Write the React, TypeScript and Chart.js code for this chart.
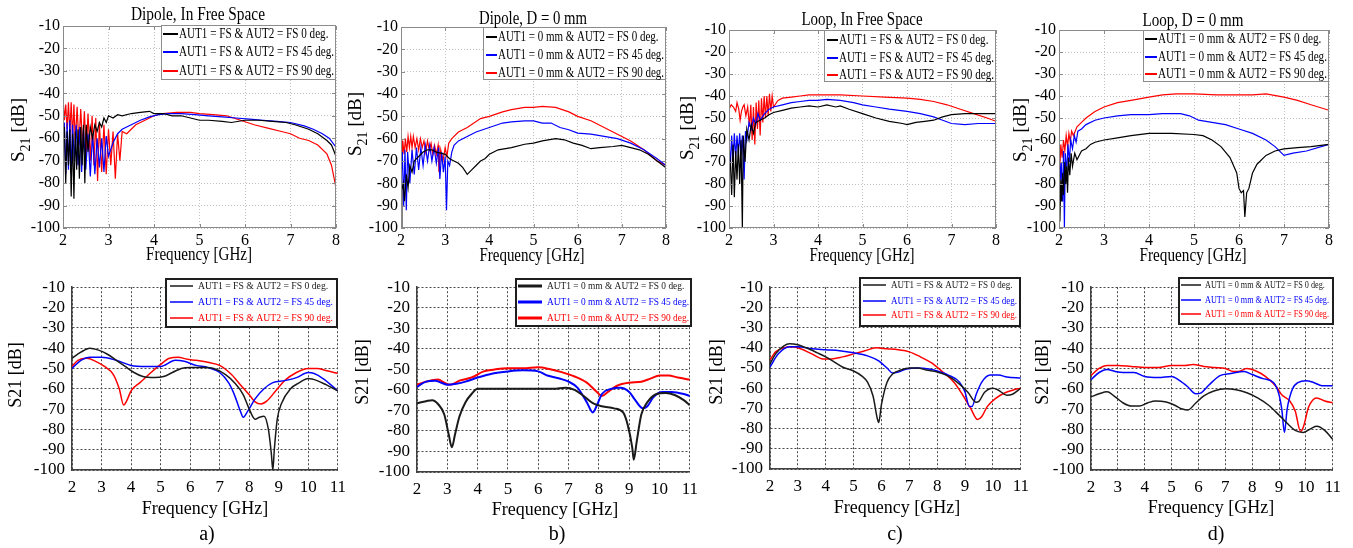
import React, { useEffect, useRef } from "react";
import { Chart, registerables } from "chart.js";
Chart.register(...registerables);

type Pt = [number, number];

const FONT = '"Liberation Serif", "Times New Roman", serif';
const COLORS = ["#000000", "#0000ff", "#ff0000"];
const COLORS_SIM = ["#1a1a1a", "#0000ff", "#ff0000"];

const LEGEND_FS = ["AUT1 = FS & AUT2 = FS 0 deg.", "AUT1 = FS & AUT2 = FS 45 deg.", "AUT1 = FS & AUT2 = FS 90 deg."];
const LEGEND_0MM = ["AUT1 = 0 mm & AUT2 = FS 0 deg.", "AUT1 = 0 mm & AUT2 = FS 45 deg.", "AUT1 = 0 mm & AUT2 = FS 90 deg."];
const TITLES = ["Dipole, In Free Space", "Dipole, D = 0 mm", "Loop, In Free Space", "Loop, D = 0 mm"];
const SUBLABELS = ["a)", "b)", "c)", "d)"];
const X_TITLE = "Frequency [GHz]";
const Y_TITLE = "S21 [dB]";

// ---------- Measured (top row) ----------
const dipFsBlack: Pt[] = [
  [2.0, -62], [2.03, -55], [2.06, -80], [2.09, -57], [2.12, -72], [2.15, -56], [2.18, -86], [2.21, -58], [2.24, -87],
  [2.27, -57], [2.3, -74], [2.33, -56], [2.36, -78], [2.39, -55], [2.42, -72], [2.45, -54], [2.48, -80], [2.51, -54],
  [2.55, -66], [2.6, -55], [2.65, -60], [2.7, -54], [2.75, -57], [2.8, -53], [2.85, -55], [2.9, -51], [2.95, -53],
  [3.0, -50], [3.1, -51], [3.2, -49.5], [3.3, -50], [3.5, -49], [3.7, -48.5], [3.9, -48], [4.0, -49], [4.2, -49],
  [4.4, -50], [4.6, -50], [4.8, -51], [5.0, -52], [5.2, -52], [5.5, -52.5], [5.7, -53], [6.0, -52], [6.3, -52],
  [6.6, -52.5], [6.9, -53], [7.1, -54], [7.4, -56], [7.6, -58], [7.8, -61], [7.9, -63], [8.0, -68],
];
const dipFsBlue: Pt[] = [
  [2.0, -65], [2.03, -53], [2.06, -76], [2.09, -53], [2.12, -74], [2.15, -52], [2.18, -76], [2.21, -54], [2.25, -70],
  [2.29, -54], [2.33, -72], [2.37, -55], [2.41, -75], [2.45, -56], [2.5, -74], [2.55, -58], [2.6, -77], [2.65, -58],
  [2.7, -76], [2.75, -60], [2.8, -73], [2.85, -60], [2.9, -75], [2.95, -59], [3.0, -68], [3.1, -62], [3.2, -58],
  [3.3, -56], [3.5, -54], [3.7, -52], [3.9, -50.5], [4.1, -49.5], [4.3, -49], [4.6, -49], [4.9, -49.5], [5.2, -50],
  [5.5, -50.5], [5.8, -51], [6.1, -51.5], [6.4, -52], [6.7, -52.5], [7.0, -53], [7.3, -54.5], [7.5, -56], [7.7, -58],
  [7.85, -60], [8.0, -64],
];
const dipFsRed: Pt[] = [
  [2.0, -42], [2.03, -52], [2.06, -45], [2.09, -56], [2.12, -44], [2.15, -58], [2.18, -44], [2.21, -60], [2.24, -45],
  [2.27, -62], [2.31, -46], [2.35, -63], [2.39, -47], [2.43, -64], [2.47, -48], [2.51, -67], [2.55, -49], [2.6, -70],
  [2.64, -50], [2.68, -72], [2.72, -51], [2.76, -79], [2.8, -53], [2.85, -75], [2.9, -54], [2.95, -76], [3.0, -56],
  [3.05, -72], [3.1, -57], [3.15, -78], [3.2, -58], [3.25, -70], [3.3, -57], [3.4, -58], [3.5, -56], [3.6, -54],
  [3.7, -53], [3.8, -52], [4.0, -50], [4.2, -49], [4.5, -48.5], [4.8, -48.5], [5.0, -49], [5.3, -49.5], [5.6, -50],
  [5.9, -52], [6.2, -54], [6.5, -55.5], [6.8, -57], [7.0, -58], [7.2, -60], [7.4, -61], [7.6, -63], [7.8, -67],
  [7.9, -72], [8.0, -82],
];

const dip0Black: Pt[] = [
  [2.0, -100], [2.02, -83], [2.05, -80], [2.08, -88], [2.12, -76], [2.16, -82], [2.2, -72], [2.25, -75], [2.3, -70],
  [2.4, -68], [2.5, -66], [2.6, -65], [2.7, -65], [2.8, -66], [2.9, -66.5], [3.0, -67], [3.1, -69], [3.2, -70],
  [3.3, -71], [3.4, -73], [3.5, -76], [3.6, -74], [3.7, -72], [3.8, -70], [3.9, -69], [4.0, -67], [4.2, -65],
  [4.5, -64], [4.8, -62.5], [5.0, -62], [5.2, -61], [5.5, -60], [5.7, -60.5], [5.9, -62], [6.1, -63], [6.3, -64.5],
  [6.5, -64], [6.8, -63.5], [7.0, -63], [7.2, -64], [7.4, -65], [7.6, -67], [7.8, -70], [8.0, -73],
];
const dip0Blue: Pt[] = [
  [2.0, -78], [2.03, -66], [2.06, -90], [2.09, -65], [2.12, -92], [2.15, -66], [2.2, -80], [2.25, -65], [2.3, -76],
  [2.35, -64], [2.4, -74], [2.45, -64], [2.5, -72], [2.55, -63], [2.6, -70], [2.65, -63], [2.7, -70], [2.75, -64],
  [2.8, -71], [2.85, -64], [2.88, -78], [2.92, -66], [2.96, -75], [3.0, -68], [3.03, -92], [3.06, -70], [3.1, -72],
  [3.15, -66], [3.2, -63], [3.3, -61], [3.5, -59], [3.7, -57], [4.0, -55], [4.3, -53], [4.5, -52.5], [4.8, -52],
  [5.0, -52], [5.2, -53], [5.4, -53], [5.6, -55], [5.8, -56], [6.0, -57.5], [6.3, -58], [6.6, -59], [6.9, -60],
  [7.2, -62], [7.5, -65], [7.8, -69], [8.0, -72],
];
const dip0Red: Pt[] = [
  [2.0, -60], [2.02, -73], [2.04, -61], [2.07, -67], [2.1, -60], [2.13, -66], [2.16, -59], [2.19, -64], [2.22, -59],
  [2.25, -64], [2.28, -59], [2.32, -64], [2.36, -60], [2.4, -65], [2.44, -60], [2.48, -64], [2.52, -61], [2.56, -66],
  [2.6, -61], [2.64, -65], [2.68, -62], [2.72, -67], [2.76, -63], [2.8, -67], [2.84, -63], [2.86, -75], [2.9, -65],
  [2.95, -70], [3.0, -64], [3.04, -68], [3.08, -62], [3.15, -60], [3.3, -57], [3.5, -55], [3.8, -51], [4.0, -50],
  [4.3, -48], [4.5, -47], [4.8, -46], [5.0, -46], [5.2, -45.5], [5.5, -46], [5.8, -48], [6.0, -50], [6.3, -52],
  [6.6, -55], [6.9, -58], [7.2, -61], [7.5, -65], [7.8, -70], [8.0, -72],
];

const loopFsBlack: Pt[] = [
  [2.0, -65], [2.03, -70], [2.06, -85], [2.09, -62], [2.12, -86], [2.15, -65], [2.18, -78], [2.21, -62], [2.24, -80],
  [2.27, -60], [2.3, -100], [2.32, -58], [2.36, -70], [2.4, -55], [2.45, -60], [2.5, -53], [2.55, -57], [2.6, -52],
  [2.7, -51], [2.8, -50], [2.9, -48.5], [3.0, -47.5], [3.2, -46.5], [3.4, -45.5], [3.6, -45], [3.8, -44.5], [4.0, -45],
  [4.2, -44], [4.4, -45], [4.5, -44.5], [4.7, -46], [5.0, -48], [5.3, -50], [5.6, -51.5], [5.9, -52.5], [6.0, -53],
  [6.2, -52], [6.4, -51.5], [6.6, -51], [6.8, -49.5], [7.0, -48.5], [7.3, -48], [7.6, -48], [8.0, -48],
];
const loopFsBlue: Pt[] = [
  [2.0, -60], [2.03, -72], [2.06, -58], [2.09, -70], [2.12, -57], [2.15, -68], [2.18, -58], [2.21, -66], [2.24, -57],
  [2.27, -67], [2.3, -58], [2.34, -78], [2.37, -56], [2.4, -60], [2.45, -52], [2.5, -55], [2.55, -50], [2.6, -53],
  [2.65, -48], [2.7, -51], [2.8, -48], [2.9, -46], [3.0, -45], [3.2, -44], [3.4, -43], [3.6, -42.5], [3.8, -42],
  [4.0, -42], [4.2, -41.5], [4.5, -42], [4.8, -43], [5.0, -44], [5.3, -45], [5.6, -46], [6.0, -47], [6.3, -48],
  [6.6, -49.5], [6.8, -51], [7.0, -52.5], [7.3, -53], [7.6, -52.5], [8.0, -52.5],
];
const loopFsRed: Pt[] = [
  [2.0, -46], [2.05, -44], [2.1, -45], [2.15, -47], [2.18, -43], [2.22, -46], [2.25, -51], [2.28, -47], [2.31, -45],
  [2.34, -44], [2.38, -49], [2.42, -45], [2.46, -54], [2.49, -44], [2.52, -60], [2.55, -45], [2.58, -62], [2.61, -43],
  [2.64, -55], [2.67, -42], [2.7, -58], [2.73, -41], [2.76, -52], [2.79, -40], [2.82, -50], [2.85, -40], [2.88, -49],
  [2.91, -39], [2.94, -47], [2.97, -40], [3.0, -45], [3.1, -42], [3.2, -41], [3.4, -40.5], [3.6, -40], [3.8, -39.5],
  [4.0, -39.5], [4.5, -39.5], [5.0, -40], [5.5, -40.5], [6.0, -41], [6.3, -41.5], [6.6, -42.5], [6.9, -44], [7.2, -46],
  [7.5, -48], [7.8, -50], [8.0, -51.5],
];

const loop0Black: Pt[] = [
  [2.0, -80], [2.02, -97], [2.04, -78], [2.06, -88], [2.08, -75], [2.1, -85], [2.13, -70], [2.15, -80], [2.17, -72],
  [2.19, -84], [2.21, -68], [2.24, -76], [2.27, -66], [2.3, -72], [2.35, -66], [2.4, -69], [2.5, -65], [2.6, -64],
  [2.7, -62], [2.8, -61], [3.0, -60], [3.3, -59], [3.6, -58], [4.0, -57], [4.5, -57], [5.0, -57.5], [5.2, -58],
  [5.4, -60], [5.6, -63], [5.8, -68], [5.95, -75], [6.0, -82], [6.05, -84], [6.1, -83], [6.13, -95], [6.17, -84],
  [6.22, -82], [6.3, -75], [6.4, -71], [6.6, -67], [6.8, -65], [7.0, -64], [7.3, -63.5], [7.6, -63], [8.0, -62],
];
const loop0Blue: Pt[] = [
  [2.0, -65], [2.03, -78], [2.05, -70], [2.08, -88], [2.1, -65], [2.12, -100], [2.14, -66], [2.17, -75], [2.2, -62],
  [2.23, -70], [2.26, -60], [2.3, -64], [2.34, -58], [2.38, -61], [2.42, -56], [2.5, -55], [2.6, -53], [2.8, -51],
  [3.0, -50], [3.3, -49], [3.6, -48.5], [4.0, -48.5], [4.3, -48], [4.7, -48], [4.9, -49], [5.1, -51], [5.4, -52],
  [5.7, -53], [6.0, -55], [6.3, -57], [6.6, -60], [6.8, -63], [7.0, -67], [7.2, -66], [7.5, -65], [8.0, -62],
];
const loop0Red: Pt[] = [
  [2.0, -64], [2.02, -72], [2.04, -62], [2.07, -68], [2.1, -60], [2.13, -65], [2.16, -58], [2.19, -63], [2.22, -57],
  [2.25, -61], [2.28, -56], [2.32, -58], [2.4, -54], [2.5, -52], [2.6, -50], [2.8, -47], [3.0, -45], [3.3, -43],
  [3.6, -42], [4.0, -40.5], [4.3, -39.5], [4.6, -39], [5.0, -39], [5.5, -39.5], [6.0, -39.5], [6.3, -39.5], [6.6, -39],
  [7.0, -40.5], [7.3, -42], [7.6, -44], [8.0, -46.5],
];

// ---------- Simulated (bottom row) ----------
const simDipFsBlack: Pt[] = [
  [2.0, -45], [2.3, -42], [2.6, -40], [2.9, -41], [3.2, -43], [3.5, -46], [3.8, -49], [4.1, -52], [4.4, -54],
  [4.8, -54.5], [5.1, -54], [5.4, -52], [5.7, -50], [6.0, -49.5], [6.5, -49.5], [6.8, -50], [7.2, -53], [7.5, -57],
  [7.8, -63], [8.0, -70], [8.2, -75], [8.35, -74], [8.5, -73.5], [8.65, -80], [8.75, -92], [8.8, -100], [8.85, -90],
  [8.95, -75], [9.1, -67], [9.4, -60], [9.7, -57], [10.0, -55], [10.3, -56], [10.6, -58], [11.0, -61],
];
const simDipFsBlue: Pt[] = [
  [2.0, -50], [2.3, -46], [2.6, -44.5], [3.0, -44.5], [3.5, -46], [4.0, -48.5], [4.5, -49], [5.0, -49], [5.5, -46],
  [5.8, -46.5], [6.2, -48.5], [6.6, -49.5], [7.0, -52], [7.3, -57], [7.5, -63], [7.7, -71], [7.8, -74], [7.95, -71],
  [8.2, -65], [8.5, -60], [8.8, -57], [9.2, -56], [9.6, -54.5], [10.0, -52], [10.2, -52.5], [10.5, -55], [11.0, -61],
];
const simDipFsRed: Pt[] = [
  [2.0, -49], [2.2, -46], [2.5, -45], [2.8, -46.5], [3.1, -49], [3.4, -53], [3.6, -60], [3.75, -68], [3.85, -66],
  [4.0, -61], [4.3, -57], [4.6, -53], [5.0, -48], [5.3, -45], [5.6, -44.5], [5.9, -45.5], [6.2, -46], [6.6, -47],
  [7.0, -48.5], [7.4, -53], [7.7, -58], [8.0, -63], [8.2, -66.5], [8.4, -67.5], [8.6, -66], [8.9, -61], [9.2, -56],
  [9.6, -52], [10.0, -50], [10.3, -50], [10.6, -51], [11.0, -52.5],
];

const simDip0Black: Pt[] = [
  [2.0, -66.5], [2.3, -65.5], [2.5, -65], [2.7, -67], [2.9, -72], [3.05, -82], [3.15, -88], [3.25, -82], [3.4, -73],
  [3.6, -66], [3.8, -62], [4.0, -59.5], [4.5, -59.5], [5.0, -59.5], [5.5, -59.5], [6.0, -59.5], [6.5, -59.5], [6.9, -59],
  [7.2, -60], [7.5, -63], [7.8, -66.5], [8.1, -68], [8.5, -69], [8.8, -71], [8.95, -77], [9.1, -88], [9.15, -94],
  [9.25, -85], [9.4, -72], [9.6, -66], [9.9, -62], [10.2, -61.5], [10.5, -62.5], [10.8, -65], [11.0, -67.5],
];
const simDip0Blue: Pt[] = [
  [2.0, -58.5], [2.3, -56], [2.6, -55.5], [2.8, -56.5], [3.0, -57.5], [3.3, -57], [3.6, -56], [4.0, -54], [4.5, -52],
  [5.0, -51], [5.5, -50.5], [6.0, -51], [6.3, -53], [6.7, -54.5], [7.0, -56], [7.3, -59], [7.6, -66], [7.8, -71],
  [7.95, -67], [8.1, -62], [8.4, -59.5], [8.7, -59], [9.0, -61], [9.2, -65], [9.45, -69], [9.6, -68], [9.8, -63.5],
  [10.1, -61], [10.4, -61], [10.8, -62], [11.0, -63],
];
const simDip0Red: Pt[] = [
  [2.0, -57.5], [2.3, -56], [2.7, -55], [2.9, -56.5], [3.1, -57.5], [3.4, -55.5], [3.8, -54], [4.2, -51], [4.6, -50],
  [5.0, -49.5], [5.5, -49.5], [6.0, -49], [6.4, -50], [6.8, -51.5], [7.2, -53.5], [7.6, -56.5], [7.9, -60.5], [8.1, -63],
  [8.3, -61], [8.6, -58], [9.0, -56.5], [9.4, -56], [9.7, -54.5], [10.0, -53], [10.3, -53], [10.6, -54], [11.0, -55],
];

const simLoopFsBlack: Pt[] = [
  [2.0, -48], [2.2, -43], [2.5, -39], [2.7, -38], [3.0, -38.5], [3.3, -40], [3.7, -42.5], [4.0, -44.5], [4.3, -47],
  [4.6, -49.5], [5.0, -51.5], [5.3, -54], [5.5, -57], [5.7, -64], [5.85, -75], [5.9, -77], [6.0, -68], [6.2, -57],
  [6.4, -53], [6.7, -51], [7.0, -50], [7.3, -50], [7.6, -51], [8.0, -52], [8.4, -54], [8.8, -58], [9.1, -62],
  [9.4, -67], [9.5, -66.5], [9.7, -62], [10.0, -60], [10.2, -61], [10.5, -63.5], [10.7, -63], [11.0, -60],
];
const simLoopFsBlue: Pt[] = [
  [2.0, -49.5], [2.3, -43], [2.7, -39.5], [3.0, -39.5], [3.5, -40.5], [4.0, -41], [4.5, -41.5], [5.0, -42.5], [5.5, -44],
  [5.9, -46.5], [6.2, -50], [6.4, -52.5], [6.6, -52], [6.9, -50.5], [7.3, -50], [7.7, -50.5], [8.0, -51.5], [8.4, -53.5],
  [8.8, -57], [9.0, -62], [9.15, -69], [9.25, -69], [9.4, -63], [9.6, -57], [9.9, -53.5], [10.2, -53.5], [10.5, -54.5],
  [11.0, -55],
];
const simLoopFsRed: Pt[] = [
  [2.0, -46], [2.2, -42], [2.5, -40], [2.8, -39.5], [3.1, -40.5], [3.5, -43], [3.9, -45.5], [4.2, -45.5], [4.6, -44.5],
  [5.0, -43], [5.4, -41.5], [5.8, -40], [6.2, -40.5], [6.6, -41], [7.0, -42], [7.4, -44.5], [7.8, -47.5], [8.2, -52],
  [8.6, -57], [8.9, -63], [9.2, -70], [9.45, -75.5], [9.6, -74], [9.8, -69], [10.1, -65], [10.4, -62.5], [10.7, -61],
  [11.0, -60],
];

const simLoop0Black: Pt[] = [
  [2.0, -64], [2.3, -62.5], [2.6, -61.5], [2.9, -64], [3.2, -67], [3.5, -68.5], [3.8, -68.5], [4.1, -67], [4.4, -66],
  [4.8, -66.5], [5.1, -68], [5.4, -70], [5.6, -70.5], [5.9, -67], [6.2, -63.5], [6.6, -61], [7.0, -60], [7.4, -60.5],
  [7.8, -62], [8.2, -64.5], [8.6, -68], [9.0, -73], [9.3, -77], [9.6, -80.5], [9.9, -81.5], [10.2, -79.5], [10.4, -78.5],
  [10.7, -80.5], [11.0, -85],
];
const simLoop0Blue: Pt[] = [
  [2.0, -55.5], [2.3, -52], [2.6, -50.5], [2.9, -51.5], [3.2, -52], [3.6, -52], [4.0, -54], [4.5, -54.5], [5.0, -54],
  [5.3, -56], [5.6, -59], [5.9, -62.5], [6.1, -62], [6.4, -58], [6.8, -53.5], [7.2, -52.5], [7.7, -51.5], [8.0, -53],
  [8.4, -55], [8.8, -57], [9.0, -63], [9.1, -70], [9.2, -81.5], [9.3, -70], [9.5, -60], [9.7, -57], [10.0, -56],
  [10.3, -57], [10.6, -58.5], [11.0, -58.5],
];
const simLoop0Red: Pt[] = [
  [2.0, -53.5], [2.3, -50], [2.6, -48.5], [3.0, -48.5], [3.5, -49], [4.0, -49.5], [4.5, -49.5], [5.0, -48.5], [5.5, -48.5],
  [5.8, -48], [6.2, -49], [6.6, -49.5], [7.0, -50], [7.3, -51.5], [7.5, -51.5], [7.8, -50], [8.1, -51], [8.5, -54],
  [8.9, -59], [9.1, -63], [9.4, -66], [9.6, -71], [9.8, -81], [9.9, -79], [10.1, -69], [10.4, -64.5], [10.7, -66],
  [11.0, -67],
];

// ---------- Layout ----------
interface Rect { l: number; t: number; r: number; b: number }
interface Panel {
  key: string;
  top: boolean;
  plot: Rect;
  xMax: number;
  series: Pt[][];
  legend: string[];
  legBox: Rect;
  legLine: [number, number];
  legTextX: number;
  legRows: number[];
  legTextW: number;
  title?: { text: string; x: number; y: number; w: number };
  xTitle: { x: number; y: number; w?: number };
  yTitle: { x: number; y: number };
  sub?: { text: string; x: number; y: number };
  lineW: number;
  legLineW: number;
}

const PANELS: Panel[] = [
  {
    key: "ta", top: true, plot: { l: 63, t: 26, r: 336, b: 228 }, xMax: 8,
    series: [dipFsBlack, dipFsBlue, dipFsRed], legend: LEGEND_FS,
    legBox: { l: 161, t: 25, r: 336, b: 80 }, legLine: [163, 178], legTextX: 179, legRows: [34, 52, 71], legTextW: 155,
    title: { text: TITLES[0], x: 198, y: 15, w: 134 }, xTitle: { x: 199, y: 255, w: 106 }, yTitle: { x: 18, y: 130 },
    lineW: 1.2, legLineW: 2,
  },
  {
    key: "tb", top: true, plot: { l: 401, t: 27, r: 666, b: 228 }, xMax: 8,
    series: [dip0Black, dip0Blue, dip0Red], legend: LEGEND_0MM,
    legBox: { l: 483, t: 27, r: 666, b: 80 }, legLine: [486, 497], legTextX: 498, legRows: [37, 55, 73], legTextW: 166,
    title: { text: TITLES[1], x: 533, y: 19, w: 108 }, xTitle: { x: 532, y: 256, w: 105 }, yTitle: { x: 355, y: 124 },
    lineW: 1.2, legLineW: 2,
  },
  {
    key: "tc", top: true, plot: { l: 729, t: 30, r: 996, b: 228 }, xMax: 8,
    series: [loopFsBlack, loopFsBlue, loopFsRed], legend: LEGEND_FS,
    legBox: { l: 824, t: 30, r: 996, b: 82 }, legLine: [827, 838], legTextX: 839, legRows: [40, 58, 75], legTextW: 155,
    title: { text: TITLES[2], x: 862, y: 20, w: 121 }, xTitle: { x: 862, y: 256, w: 105 }, yTitle: { x: 687, y: 128 },
    lineW: 1.2, legLineW: 2,
  },
  {
    key: "td", top: true, plot: { l: 1059, t: 30, r: 1329, b: 228 }, xMax: 8,
    series: [loop0Black, loop0Blue, loop0Red], legend: LEGEND_0MM,
    legBox: { l: 1143, t: 30, r: 1329, b: 82 }, legLine: [1145, 1157], legTextX: 1158, legRows: [39, 57, 74], legTextW: 169,
    title: { text: TITLES[3], x: 1193, y: 21, w: 101 }, xTitle: { x: 1193, y: 256, w: 107 }, yTitle: { x: 1020, y: 130 },
    lineW: 1.2, legLineW: 2,
  },
  {
    key: "ba", top: false, plot: { l: 72, t: 277, r: 339, b: 470 }, xMax: 11,
    series: [simDipFsBlack, simDipFsBlue, simDipFsRed], legend: LEGEND_FS,
    legBox: { l: 165, t: 278, r: 338, b: 328 }, legLine: [170, 193], legTextX: 198, legRows: [286, 302, 318], legTextW: 135,
    xTitle: { x: 205, y: 509 }, yTitle: { x: 16, y: 375 }, sub: { text: SUBLABELS[0], x: 207, y: 535 },
    lineW: 1.5, legLineW: 1.5,
  },
  {
    key: "bb", top: false, plot: { l: 417, t: 278, r: 691, b: 472 }, xMax: 11,
    series: [simDip0Black, simDip0Blue, simDip0Red], legend: LEGEND_0MM,
    legBox: { l: 515, t: 278, r: 692, b: 327 }, legLine: [518, 542], legTextX: 547, legRows: [286, 302, 318], legTextW: 142,
    xTitle: { x: 555, y: 510 }, yTitle: { x: 363, y: 372 }, sub: { text: SUBLABELS[1], x: 557, y: 535 },
    lineW: 2, legLineW: 3,
  },
  {
    key: "bc", top: false, plot: { l: 770, t: 277, r: 1022, b: 469 }, xMax: 11,
    series: [simLoopFsBlack, simLoopFsBlue, simLoopFsRed], legend: LEGEND_FS,
    legBox: { l: 859, t: 277, r: 1021, b: 327 }, legLine: [863, 886], legTextX: 891, legRows: [285, 301, 315], legTextW: 126,
    xTitle: { x: 897, y: 508 }, yTitle: { x: 717, y: 372 }, sub: { text: SUBLABELS[2], x: 895, y: 535 },
    lineW: 1.5, legLineW: 1.5,
  },
  {
    key: "bd", top: false, plot: { l: 1091, t: 277, r: 1334, b: 470 }, xMax: 11,
    series: [simLoop0Black, simLoop0Blue, simLoop0Red], legend: LEGEND_0MM,
    legBox: { l: 1178, t: 277, r: 1334, b: 325 }, legLine: [1181, 1201], legTextX: 1205, legRows: [285, 300, 314], legTextW: 124,
    xTitle: { x: 1211, y: 508 }, yTitle: { x: 1043, y: 372 }, sub: { text: SUBLABELS[3], x: 1216, y: 535 },
    lineW: 1.5, legLineW: 1.5,
  },
];

function canvasBox(p: Panel) {
  const left = Math.max(0, p.plot.l - 70);
  const right = Math.min(1353, p.plot.r + 14);
  const top = p.top ? 0 : 270;
  const bottom = p.top ? 270 : 548;
  return { left, right, top, bottom, w: right - left, h: bottom - top };
}

function drawText(
  ctx: CanvasRenderingContext2D, text: string, x: number, y: number, size: number,
  opt: { align?: CanvasTextAlign; color?: string; w?: number; rot?: boolean } = {}
) {
  ctx.save();
  ctx.font = `${size}px ${FONT}`;
  ctx.fillStyle = opt.color || "#000";
  ctx.textBaseline = "middle";
  ctx.textAlign = opt.align || "center";
  ctx.translate(x, y);
  if (opt.rot) ctx.rotate(-Math.PI / 2);
  if (opt.w) {
    const m = ctx.measureText(text).width;
    ctx.scale(opt.w / m, 1);
  }
  ctx.fillText(text, 0, 0);
  ctx.restore();
}

function drawSubTitle(ctx: CanvasRenderingContext2D, x: number, y: number, size: number) {
  ctx.save();
  ctx.translate(x, y);
  ctx.rotate(-Math.PI / 2);
  ctx.fillStyle = "#000";
  ctx.textAlign = "left";
  ctx.textBaseline = "alphabetic";
  const big = `${size}px ${FONT}`;
  const small = `${Math.round(size * 0.72)}px ${FONT}`;
  ctx.font = big;
  const wS = ctx.measureText("S").width;
  const wR = ctx.measureText(" [dB]").width;
  ctx.font = small;
  const w21 = ctx.measureText("21").width;
  let cx = -(wS + w21 + wR) / 2;
  const base = size * 0.33;
  ctx.font = big;
  ctx.fillText("S", cx, base);
  cx += wS;
  ctx.font = small;
  ctx.fillText("21", cx, base + size * 0.28);
  cx += w21;
  ctx.font = big;
  ctx.fillText(" [dB]", cx, base);
  ctx.restore();
}

function makeDeco(p: Panel, ox: number, oy: number) {
  return {
    id: "deco_" + p.key,
    afterDraw(chart: any) {
      const ctx: CanvasRenderingContext2D = chart.ctx;
      const ca = chart.chartArea;
      const X = (x: number) => x - ox;
      const Y = (y: number) => y - oy;
      ctx.save();
      if (p.top) {
        const xs = chart.scales.x;
        const ys = chart.scales.y;
        ctx.strokeStyle = "#8a8a8a";
        ctx.lineWidth = 1;
        ctx.beginPath();
        xs.ticks.forEach((t: any) => {
          const px = Math.round(xs.getPixelForValue(t.value)) + 0.5;
          ctx.moveTo(px, ca.bottom); ctx.lineTo(px, ca.bottom - 4);
          ctx.moveTo(px, ca.top); ctx.lineTo(px, ca.top + 4);
        });
        ys.ticks.forEach((t: any) => {
          const py = Math.round(ys.getPixelForValue(t.value)) + 0.5;
          ctx.moveTo(ca.left, py); ctx.lineTo(ca.left + 4, py);
          ctx.moveTo(ca.right, py); ctx.lineTo(ca.right - 4, py);
        });
        ctx.stroke();
        ctx.strokeStyle = "#8a8a8a";
        ctx.strokeRect(Math.round(ca.left) + 0.5, Math.round(ca.top) + 0.5,
          Math.round(ca.right - ca.left) - 1, Math.round(ca.bottom - ca.top) - 1);
      }
      // legend
      const lb = p.legBox;
      ctx.fillStyle = "#ffffff";
      ctx.fillRect(X(lb.l), Y(lb.t), lb.r - lb.l, lb.b - lb.t);
      ctx.strokeStyle = p.top ? "#8c8c8c" : "#1e1e1e";
      ctx.lineWidth = p.top ? 1 : 2;
      if (p.top) ctx.strokeRect(X(lb.l) + 0.5, Y(lb.t) + 0.5, lb.r - lb.l - 1, lb.b - lb.t - 1);
      else ctx.strokeRect(X(lb.l) + 1, Y(lb.t) + 1, lb.r - lb.l - 2, lb.b - lb.t - 2);
      const baseSize = p.top ? 15 : 11;
      ctx.font = `${baseSize}px ${FONT}`;
      const mW = ctx.measureText(p.legend[1]).width;
      const sx = p.legTextW / mW;
      p.legend.forEach((txt, i) => {
        const col = p.top ? COLORS[i] : COLORS_SIM[i];
        ctx.strokeStyle = col;
        ctx.lineWidth = p.legLineW;
        ctx.beginPath();
        ctx.moveTo(X(p.legLine[0]), Y(p.legRows[i]));
        ctx.lineTo(X(p.legLine[1]), Y(p.legRows[i]));
        ctx.stroke();
        ctx.font = `${baseSize}px ${FONT}`;
        const w = ctx.measureText(txt).width * sx;
        drawText(ctx, txt, X(p.legTextX), Y(p.legRows[i]), baseSize, { align: "left", color: p.top ? "#000" : col, w });
      });
      // titles
      if (p.title) drawText(ctx, p.title.text, X(p.title.x), Y(p.title.y), 19, { w: p.title.w });
      drawText(ctx, X_TITLE, X(p.xTitle.x), Y(p.xTitle.y), p.top ? 19 : 18, { w: p.xTitle.w });
      if (p.top) drawSubTitle(ctx, X(p.yTitle.x), Y(p.yTitle.y), 19);
      else drawText(ctx, Y_TITLE, X(p.yTitle.x), Y(p.yTitle.y), 18, { rot: true });
      if (p.sub) drawText(ctx, p.sub.text, X(p.sub.x), Y(p.sub.y), 20);
      ctx.restore();
    },
  };
}

function PanelChart({ p }: { p: Panel }) {
  const ref = useRef<HTMLCanvasElement | null>(null);
  const box = canvasBox(p);
  useEffect(() => {
    if (!ref.current) return;
    const tickFont = { family: FONT, size: p.top ? 16 : 17 };
    const gridCol = p.top ? "#c0c0c0" : "#4a4a4a";
    const dash = p.top ? [1, 2] : [2, 2];
    const chart = new Chart(ref.current, {
      type: "line",
      data: {
        datasets: p.series.map((s, i) => ({
          data: s.map(([x, y]) => ({ x, y })),
          borderColor: p.top ? COLORS[i] : COLORS_SIM[i],
          borderWidth: p.lineW,
          pointRadius: 0,
          fill: false,
          tension: 0,
          cubicInterpolationMode: p.top ? "default" : "monotone",
        })),
      } as any,
      options: {
        responsive: false,
        animation: false,
        devicePixelRatio: 1,
        events: [],
        layout: { padding: { left: 0, top: p.plot.t - box.top, right: box.right - p.plot.r, bottom: 0 } },
        plugins: { legend: { display: false }, tooltip: { enabled: false }, title: { display: false } },
        scales: {
          x: {
            type: "linear", min: 2, max: p.xMax,
            ticks: { stepSize: 1, font: tickFont, color: "#000", padding: p.top ? 3 : 7, maxRotation: 0, autoSkip: false },
            grid: { color: gridCol, lineWidth: 1, drawTicks: false },
            border: { display: !p.top, color: "#404040", width: 1.5, dash },
            afterFit: (s: any) => { s.height = box.bottom - p.plot.b; },
          },
          y: {
            type: "linear", min: -100, max: -10,
            ticks: { stepSize: 10, font: tickFont, color: "#000", padding: p.top ? 3 : 7, autoSkip: false },
            grid: { color: gridCol, lineWidth: 1, drawTicks: false },
            border: { display: !p.top, color: "#404040", width: 1.5, dash },
            afterFit: (s: any) => { s.width = p.plot.l - box.left; },
          },
        },
      } as any,
      plugins: [makeDeco(p, box.left, box.top)],
    });
    return () => chart.destroy();
  }, []);
  return (
    <canvas
      ref={ref}
      width={box.w}
      height={box.h}
      style={{ position: "absolute", left: box.left, top: box.top, width: box.w, height: box.h }}
    />
  );
}

export default function App() {
  return (
    <div style={{ position: "absolute", left: 0, top: 0, width: 1353, height: 548, background: "#fff", overflow: "hidden" }}>
      {PANELS.map((p) => (
        <PanelChart key={p.key} p={p} />
      ))}
    </div>
  );
}
